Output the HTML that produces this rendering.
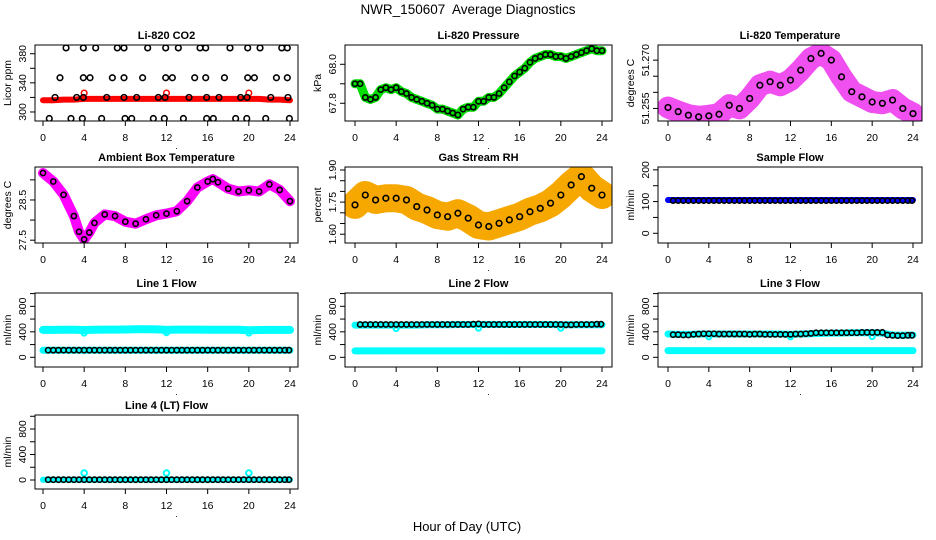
<!DOCTYPE html>
<html><head><meta charset="utf-8"><title>NWR_150607 Average Diagnostics</title>
<style>html,body{margin:0;padding:0;background:#fff}svg{display:block;font-family:"Liberation Sans",Arial,sans-serif}</style>
</head><body>
<svg id="chart" width="936" height="540" viewBox="0 0 936 540" xmlns="http://www.w3.org/2000/svg">
<text x="468" y="14" font-size="13.5" text-anchor="middle" xml:space="preserve" style="white-space:pre">NWR_150607  Average Diagnostics</text>
<text x="467" y="531" font-size="13" text-anchor="middle">Hour of Day (UTC)</text>
</svg>
<script>
// ---- data ----
const hours = [0,1,2,3,4,5,6,7,8,9,10,11,12,13,14,15,16,17,18,19,20,21,22,23,24];
const halfT = [0.5,1,1.5,2,2.5,3,3.5,4,4.5,5,5.5,6,6.5,7,7.5,8,8.5,9,9.5,10,10.5,11,11.5,12,12.5,13,13.5,14,14.5,15,15.5,16,16.5,17,17.5,18,18.5,19,19.5,20,20.5,21,21.5,22,22.5,23,23.5,23.9];
const xTickLabels = ["0","4","8","12","16","20","24"];

// CO2
const co2Red = [316,316,317,317,318,318,318,318,318,318,318,318,318,318,318,318,318,318,318,318,318,318,317,317,316];
const co2RedOutT = [4,12,20];
const co2RedOutV = [326,326,326];
const co2BlkT = [2.24,3.92,5.12,7.22,7.87,10.17,11.92,13.15,15.26,15.81,18.17,19.89,21.09,23.2,23.74,
  1.65,3.92,4.57,6.74,7.87,9.68,11.92,12.57,14.74,15.81,17.63,19.89,20.54,22.68,23.74,
  1.17,3.27,3.92,6.19,7.87,9.1,11.21,11.86,14.19,15.9,17.1,19.2,19.83,22.13,23.8,
  0.61,2.72,3.82,5.7,7.97,8.62,10.72,11.79,13.64,15.9,16.55,18.72,19.8,21.64,23.94];
const co2BlkV = [388,388,388,388,388,388,388,388,388,388,388,388,388,388,388,
  347,347,347,347,347,347,347,347,347,347,347,347,347,347,347,
  320,320,320,320,320,320,320,320,320,320,320,320,320,320,320,
  291,291,291,291,291,291,291,291,291,291,291,291,291,291,291];

// Pressure (half hours 0..24)
const pressT = [0,0.5,1,1.5,2,2.5,3,3.5,4,4.5,5,5.5,6,6.5,7,7.5,8,8.5,9,9.5,10,10.5,11,11.5,12,12.5,13,13.5,14,14.5,15,15.5,16,16.5,17,17.5,18,18.5,19,19.5,20,20.5,21,21.5,22,22.5,23,23.5,24];
const pressV = [67.90,67.90,67.83,67.82,67.83,67.87,67.88,67.87,67.88,67.86,67.85,67.83,67.82,67.81,67.80,67.79,67.77,67.77,67.76,67.75,67.74,67.77,67.78,67.78,67.81,67.81,67.83,67.83,67.85,67.88,67.91,67.94,67.96,67.98,68.01,68.03,68.04,68.05,68.05,68.04,68.04,68.03,68.04,68.05,68.06,68.07,68.08,68.07,68.07];

// Li-820 temperature (hourly)
const tempV = [51.2553,51.2540,51.2529,51.2524,51.2527,51.2532,51.2560,51.2550,51.2581,51.2622,51.2633,51.2622,51.2638,51.2669,51.2705,51.2721,51.2700,51.2648,51.2602,51.2586,51.2570,51.2566,51.2576,51.2550,51.2534];

// Ambient box temperature
const ambT = [0,1,2,3,3.5,4,4.5,5,6,7,8,9,10,11,12,13,14,15,16,16.5,17,18,19,20,21,22,23,24];
const ambV = [29.17,28.96,28.63,28.10,27.71,27.52,27.69,27.93,28.14,28.10,27.96,27.91,28.02,28.12,28.16,28.22,28.47,28.81,28.96,29.02,28.94,28.78,28.71,28.74,28.71,28.89,28.75,28.47];

// Gas stream RH
const rhV = [1.737,1.783,1.760,1.768,1.768,1.760,1.729,1.713,1.690,1.682,1.698,1.675,1.643,1.636,1.651,1.667,1.682,1.705,1.721,1.745,1.783,1.830,1.869,1.815,1.783];

// Flows: bands (hourly) and averages (halfT)
const sampleBand = [105,105,105,105,105,105,105,105,105,105,105,105,105,105,105,105,105,105,105,105,105,105,105,105,105];
const sampleAvg = [103,103,103,103,103,103,103,103,103,103,103,103,103,103,103,103,103,103,103,103,103,103,103,103,103,103,103,103,103,103,103,103,103,103,103,103,103,103,103,103,103,103,103,103,103,103,103,103];
const line1Hi = [430,430,432,432,428,432,435,435,437,440,440,438,430,435,435,435,433,433,432,432,425,428,430,430,430];
const line1Lo = [110,110,110,110,110,110,110,110,110,110,110,110,110,110,110,110,110,110,110,110,110,110,110,110,110];
const line1Avg = [112,112,112,112,112,112,112,112,112,112,112,112,112,112,112,112,112,112,112,112,112,112,112,112,112,112,112,112,112,112,112,112,112,112,112,112,112,112,112,112,112,112,112,112,112,112,112,112];
const line2Hi = [505,505,505,505,505,505,505,510,510,510,515,515,515,515,515,515,515,515,515,515,510,510,510,510,510];
const line2Lo = [100,100,100,100,100,100,100,100,100,100,100,100,100,100,100,100,100,100,100,100,100,100,100,100,100];
const line2Avg = [515,515,515,515,515,515,515,515,515,515,515,515,515,515,515,515,515,515,515,515,515,515,520,525,515,515,515,515,515,515,515,515,515,515,515,515,515,515,515,515,510,510,515,515,515,515,520,520];
const line3Hi = [365,360,360,365,365,365,365,365,365,365,365,365,360,365,370,375,380,380,385,385,385,380,350,345,350];
const line3Lo = [105,105,105,105,105,105,105,105,105,105,105,105,105,105,105,105,105,105,105,105,105,105,105,105,105];
const line3Avg = [355,355,350,350,360,365,370,370,370,365,365,365,365,365,365,360,365,365,360,360,360,360,360,360,365,365,370,375,385,385,385,385,385,385,385,385,385,390,390,390,390,390,350,345,340,340,345,345];
const line4Band = [5,5,5,5,5,5,5,5,5,5,5,5,5,5,5,5,5,5,5,5,5,5,5,5,5];
const line4Avg = [5,5,5,5,5,5,5,5,5,5,5,5,5,5,5,5,5,5,5,5,5,5,5,5,5,5,5,5,5,5,5,5,5,5,5,5,5,5,5,5,5,5,5,5,5,5,5,5];
const flowOutT = [4,12,20];
const line1OutV = [380,385,380];
const line2OutV = [450,455,455];
const line3OutV = [320,320,325];
const line4OutV = [110,110,110];

const co2Ticks=[300,320,340,360,380], co2Labels=["300","","340","","380"];
const pressTicks=[67.8,67.9,68.0], pressLabels=["67.8","","68.0"];
const tempTicks=[51.255,51.26,51.265,51.27], tempLabels=["51.255","","","51.270"];
const ambTicks=[27.5,28,28.5,29], ambLabels=["27.5","","28.5",""];
const rhTicks=[1.6,1.65,1.7,1.75,1.8,1.85,1.9], rhLabels=["1.60","","","1.75","","","1.90"];
const sampTicks=[0,50,100,150,200], sampLabels=["0","","100","","200"];
const flowTicks=[0,200,400,600,800,1000], flowLabels=["0","","400","","800",""];

// ---- layout ----
const NS="http://www.w3.org/2000/svg";
const svg=document.getElementById('chart');
const cols=[{L:35,R:298,x0:43,x24:290},{L:345,R:612,x0:355,x24:602},{L:658,R:922,x0:668,x24:913}];
const rows=[{T:45,B:121},{T:167,B:243},{T:293,B:367},{T:415,B:489}];
function mk(tag,attrs,parent){const e=document.createElementNS(NS,tag);for(const k in attrs)e.setAttribute(k,attrs[k]);(parent||svg).appendChild(e);return e;}
let pid=0;
function panel(name,c,r,title,ylab,ymin,ymax,ticks,labels){
  const C=cols[c],R=rows[r];pid++;
  const g=mk('g',{});
  
  
  const x=t=>C.x0+(t/24)*(C.x24-C.x0);
  const y=v=>R.B-(v-ymin)/(ymax-ymin)*(R.B-R.T);
  const cp=mk('clipPath',{id:'cp'+pid},g);
  mk('rect',{x:C.L,y:R.T,width:C.R-C.L,height:R.B-R.T},cp);
  const t=mk('text',{x:(C.L+C.R)/2,y:R.T-6,'font-size':11,'font-weight':'bold','text-anchor':'middle'},g);
  t.textContent=title;
  
  
  const yl=mk('text',{x:C.L-24,y:(R.T+R.B)/2,'font-size':10.5,'text-anchor':'middle',transform:`rotate(-90 ${C.L-24} ${(R.T+R.B)/2})`},g);
  yl.textContent=ylab;
  
  
  for(let i=0;i<xTickLabels.length;i++){
    const tv=+xTickLabels[i],xx=x(tv);
    mk('line',{x1:xx,x2:xx,y1:R.B,y2:R.B+5,stroke:'#000'},g);
    const lt=mk('text',{x:xx,y:R.B+20,'font-size':10.5,'text-anchor':'middle'},g);
    lt.textContent=xTickLabels[i];
    
    
  }
  const dot=mk('text',{x:(C.x0+C.x24)/2+10,y:R.B+28,'font-size':9,'text-anchor':'middle'},g);dot.textContent='.';
  for(let i=0;i<ticks.length;i++){
    const yy=y(ticks[i]);
    mk('line',{x1:C.L-5,x2:C.L,y1:yy,y2:yy,stroke:'#000'},g);
    if(labels[i]){
      const lt=mk('text',{x:C.L-9,y:yy,'font-size':10.5,'text-anchor':'middle',transform:`rotate(-90 ${C.L-9} ${yy})`},g);
      lt.textContent=labels[i];
      
      
    }
  }
  const plot=mk('g',{'clip-path':`url(#cp${pid})`},g);
  const box=mk('rect',{x:C.L,y:R.T,width:C.R-C.L,height:R.B-R.T,fill:'none',stroke:'#000','stroke-width':1},g);
  
  
  return {x,y,plot};
}
function band(P,ts,vs,color,w,nm){
  const pts=ts.map((t,i)=>P.x(t).toFixed(1)+','+P.y(vs[i]).toFixed(1)).join(' ');
  const pl=mk('polyline',{points:pts,fill:'none',stroke:color,'stroke-width':w,'stroke-linecap':'round','stroke-linejoin':'round'},P.plot);
  
  
}
function circles(P,ts,vs,color,rad,sw,nm){
  for(let i=0;i<ts.length;i++){
    const c=mk('circle',{cx:P.x(ts[i]),cy:P.y(vs[i]),r:rad,fill:'none',stroke:color,'stroke-width':sw},P.plot);
    
    
  }
}

let P=panel('co2',0,0,'Li-820 CO2','Licor ppm',287.6,392,co2Ticks,co2Labels);
band(P,hours,co2Red,'#ff0000',6,'co2-red-series');
circles(P,co2RedOutT,co2RedOutV,'#ff0000',2.8,1.5,'co2-red-point');
circles(P,co2BlkT,co2BlkV,'#000',2.8,1.6,'co2-average-point');
P=panel('pressure',1,0,'Li-820 Pressure','kPa',67.709,68.099,pressTicks,pressLabels);
band(P,pressT,pressV,'#00dd00',9,'pressure-green-series');
circles(P,pressT,pressV,'#000',2.6,1.6,'pressure-average-point');
P=panel('li820-temp',2,0,'Li-820 Temperature','degrees C',51.2511,51.2747,tempTicks,tempLabels);
band(P,hours,tempV,'#f050f0',22,'temperature-magenta-series');
circles(P,hours,tempV,'#000',2.8,1.6,'temperature-average-point');
P=panel('ambient',0,1,'Ambient Box Temperature','degrees C',27.43,29.32,ambTicks,ambLabels);
band(P,ambT,ambV,'#ff00ff',10,'ambient-magenta-series');
circles(P,ambT,ambV,'#000',2.6,1.6,'ambient-average-point');
P=panel('rh',1,1,'Gas Stream RH','percent',1.559,1.914,rhTicks,rhLabels);
band(P,hours,rhV,'#f7a800',28,'rh-orange-series');
circles(P,hours,rhV,'#000',2.8,1.6,'rh-average-point');
P=panel('sample-flow',2,1,'Sample Flow','ml/min',-30.6,209,sampTicks,sampLabels);
band(P,hours,sampleBand,'#0000ff',6,'sample-flow-blue-series');
circles(P,halfT,sampleAvg,'#000',2.6,1.6,'sample-flow-average-point');
P=panel('line1-flow',0,2,'Line 1 Flow','ml/min',-152,1009,flowTicks,flowLabels);
band(P,hours,line1Hi,'#00ffff',8,'line1-cyan-high');
band(P,hours,line1Lo,'#00ffff',7,'line1-cyan-low');
circles(P,flowOutT,line1OutV,'#00ffff',2.5,2,'line1-cyan-outlier');
circles(P,halfT,line1Avg,'#000',2.6,1.6,'line1-average-point');
P=panel('line2-flow',1,2,'Line 2 Flow','ml/min',-152,1009,flowTicks,flowLabels);
band(P,hours,line2Hi,'#00ffff',7,'line2-cyan-high');
band(P,hours,line2Lo,'#00ffff',7,'line2-cyan-low');
circles(P,flowOutT,line2OutV,'#00ffff',2.5,2,'line2-cyan-outlier');
circles(P,halfT,line2Avg,'#000',2.6,1.6,'line2-average-point');
P=panel('line3-flow',2,2,'Line 3 Flow','ml/min',-152,1009,flowTicks,flowLabels);
band(P,hours,line3Hi,'#00ffff',7,'line3-cyan-high');
band(P,hours,line3Lo,'#00ffff',7,'line3-cyan-low');
circles(P,flowOutT,line3OutV,'#00ffff',2.5,2,'line3-cyan-outlier');
circles(P,halfT,line3Avg,'#000',2.6,1.6,'line3-average-point');
P=panel('line4-flow',0,3,'Line 4 (LT) Flow','ml/min',-141,1020,flowTicks,flowLabels);
band(P,hours,line4Band,'#00ffff',6,'line4-cyan-series');
circles(P,flowOutT,line4OutV,'#00ffff',2.8,2,'line4-cyan-outlier');
circles(P,halfT,line4Avg,'#000',2.6,1.6,'line4-average-point');
</script>
</body></html>
